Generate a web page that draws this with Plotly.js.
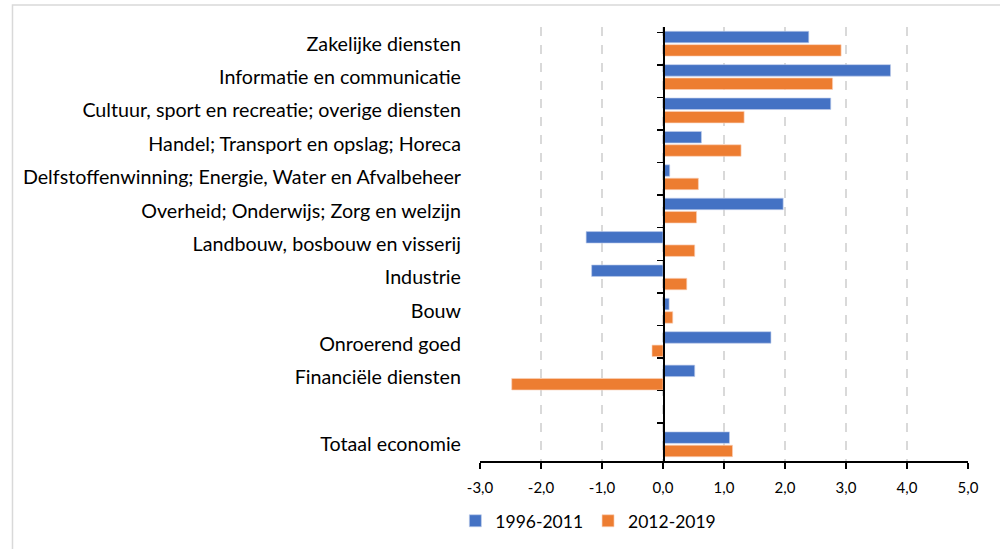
<!DOCTYPE html>
<html>
<head>
<meta charset="utf-8">
<script src="https://cdn.plot.ly/plotly-3.0.1.min.js"></script>
<style>html,body{margin:0;padding:0;background:#fff;}#chart{width:1000px;height:549px;}</style>
</head>
<body>
<div id="chart"></div>
<script>
const categories = [
  "Zakelijke diensten",
  "Informatie en communicatie",
  "Cultuur, sport en recreatie; overige diensten",
  "Handel; Transport en opslag; Horeca",
  "Delfstoffenwinning; Energie, Water en Afvalbeheer",
  "Overheid; Onderwijs; Zorg en welzijn",
  "Landbouw, bosbouw en visserij",
  "Industrie",
  "Bouw",
  "Onroerend goed",
  "Financiële diensten",
  " ",
  "Totaal economie"
];
const series1Name = "1996-2011";
const series2Name = "2012-2019";
const series1 = [2.39, 3.73, 2.75, 0.63, 0.11, 1.97, -1.26, -1.17, 0.10, 1.77, 0.52, null, 1.09];
const series2 = [2.92, 2.78, 1.33, 1.28, 0.58, 0.55, 0.52, 0.39, 0.16, -0.18, -2.48, null, 1.14];
const xTicks = [-3, -2, -1, 0, 1, 2, 3, 4, 5];
const xTickLabels = ["-3,0", "-2,0", "-1,0", "0,0", "1,0", "2,0", "3,0", "4,0", "5,0"];

const FONT = "Lato, 'Open Sans', sans-serif";

const traces = [
  {type: "bar", orientation: "h", name: series1Name, y: categories, x: series1,
   marker: {color: "#4472C4", line: {color: "rgba(190,205,235,0.8)", width: 0.8}}, hoverinfo: "x"},
  {type: "bar", orientation: "h", name: series2Name, y: categories, x: series2,
   marker: {color: "#ED7D31", line: {color: "rgba(250,210,185,0.8)", width: 0.8}}, hoverinfo: "x"},
  {type: "scatter", mode: "none", y: categories, x: series1, yaxis: "y2",
   showlegend: false, hoverinfo: "skip"}
];

const layout = {
  width: 1000, height: 549,
  margin: {l: 480, r: 32, t: 27, b: 88, autoexpand: false},
  paper_bgcolor: "#ffffff", plot_bgcolor: "#ffffff",
  font: {family: FONT, color: "#000000"},
  separators: ",.",
  barmode: "group",
  bargap: 0.2,
  bargroupgap: 0.14,
  showlegend: true,
  legend: {orientation: "h", x: 0.222, xanchor: "center", y: -0.138, yanchor: "middle",
           font: {size: 17.5, family: FONT}, traceorder: "normal", itemwidth: 30},
  xaxis: {
    range: [-3, 5], tickvals: xTicks, ticktext: xTickLabels,
    showgrid: true, gridcolor: "#D9D9D9", griddash: "dash", gridwidth: 1.5,
    zeroline: false, showline: true, linecolor: "#000000", linewidth: 1.5,
    ticks: "outside", ticklen: 6, tickcolor: "#000000", tickwidth: 1.5,
    ticklabelstandoff: 6,
    tickfont: {size: 15, family: FONT}, fixedrange: true
  },
  yaxis: {
    type: "category", categoryorder: "array", categoryarray: categories,
    autorange: "reversed", showgrid: false, zeroline: false, showline: false,
    ticks: "", ticklabelstandoff: 18, tickfont: {size: 19.7, family: FONT}, fixedrange: true
  },
  yaxis2: {
    type: "category", categoryorder: "array", categoryarray: categories,
    autorange: "reversed", overlaying: "y", anchor: "free", position: 0.375, side: "left",
    showgrid: false, zeroline: false, showline: true, linecolor: "#000000", linewidth: 1.5,
    ticks: "outside", tickson: "boundaries", ticklen: 6, tickcolor: "#000000", tickwidth: 1.5,
    showticklabels: false, fixedrange: true
  },
  shapes: [
    {type: "rect", xref: "paper", yref: "paper", x0: -0.958, x1: 1.2, y0: -0.6, y1: 1.0507,
     line: {color: "#D9D9D9", width: 1.5}, fillcolor: "rgba(0,0,0,0)", layer: "below"}
  ]
};

Plotly.newPlot("chart", traces, layout, {displayModeBar: false, staticPlot: true});
</script>
</body>
</html>
